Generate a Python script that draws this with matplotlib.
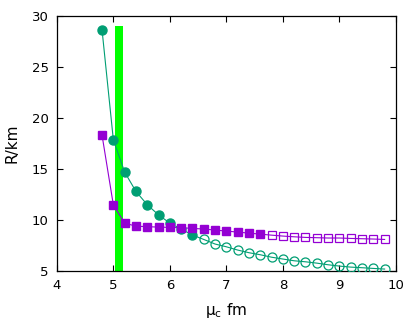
import numpy as np
import matplotlib
matplotlib.use("Agg")
import matplotlib.pyplot as plt

# green circles: filled part then open part
mu_c_fill = [4.8, 5.0, 5.2, 5.4, 5.6, 5.8, 6.0, 6.2, 6.4]
r_c_fill = [28.6, 17.85, 14.7, 12.8, 11.5, 10.5, 9.7, 9.12, 8.53]
mu_c_open = [6.6, 6.8, 7.0, 7.2, 7.4, 7.6, 7.8, 8.0, 8.2, 8.4, 8.6, 8.8,
             9.0, 9.2, 9.4, 9.6, 9.8]
r_c_open = [8.1, 7.65, 7.38, 7.06, 6.8, 6.6, 6.36, 6.18, 6.01, 5.91, 5.78,
            5.62, 5.49, 5.39, 5.33, 5.26, 5.2]

# purple squares
mu_s_fill = [4.8, 5.0, 5.2, 5.4, 5.6, 5.8, 6.0, 6.2, 6.4, 6.6, 6.8, 7.0,
             7.2, 7.4, 7.6]
r_s_fill = [18.3, 11.47, 9.7, 9.4, 9.35, 9.31, 9.28, 9.25, 9.18, 9.12,
            9.02, 8.92, 8.82, 8.72, 8.62]
mu_s_open = [7.8, 8.0, 8.2, 8.4, 8.6, 8.8, 9.0, 9.2, 9.4, 9.6, 9.8]
r_s_open = [8.52, 8.43, 8.36, 8.3, 8.27, 8.24, 8.24, 8.2, 8.17, 8.14, 8.1]

# vertical band
band_x = 5.1
band_top = 29.0

green = "#009e73"
purple = "#9400d3"

fig = plt.figure(figsize=(4.15, 3.31), dpi=100)
ax = fig.add_axes([0.137, 0.181, 0.817, 0.771])

ax.bar(band_x, band_top - 5, bottom=5, width=0.14, color="#00ff00", zorder=1)

ax.plot(mu_c_fill + mu_c_open, r_c_fill + r_c_open, color=green, lw=0.8, zorder=2)
ax.plot(mu_c_fill, r_c_fill, "o", color=green, ms=6.5, zorder=3)
ax.plot(mu_c_open, r_c_open, "o", mfc="none", mec=green, ms=6.5, mew=0.9, zorder=3)

ax.plot(mu_s_fill + mu_s_open, r_s_fill + r_s_open, color=purple, lw=0.8, zorder=2)
ax.plot(mu_s_fill, r_s_fill, "s", color=purple, ms=6, zorder=3)
ax.plot(mu_s_open, r_s_open, "s", mfc="none", mec=purple, ms=6, mew=0.9, zorder=3)

ax.set_xlim(4, 10)
ax.set_ylim(5, 30)
ax.set_xticks(np.arange(4, 11, 1))
ax.set_yticks(np.arange(5, 31, 5))
ax.tick_params(direction="in", top=True, right=True, labelsize=9.5, length=4, pad=6)
for s in ax.spines.values():
    s.set_linewidth(0.9)
ax.set_xlabel(r"$\mathregular{\mu_c}$ fm", fontsize=11, labelpad=6)
ax.set_ylabel("R/km", fontsize=11, labelpad=9)

fig.savefig("out.png", dpi=100)
